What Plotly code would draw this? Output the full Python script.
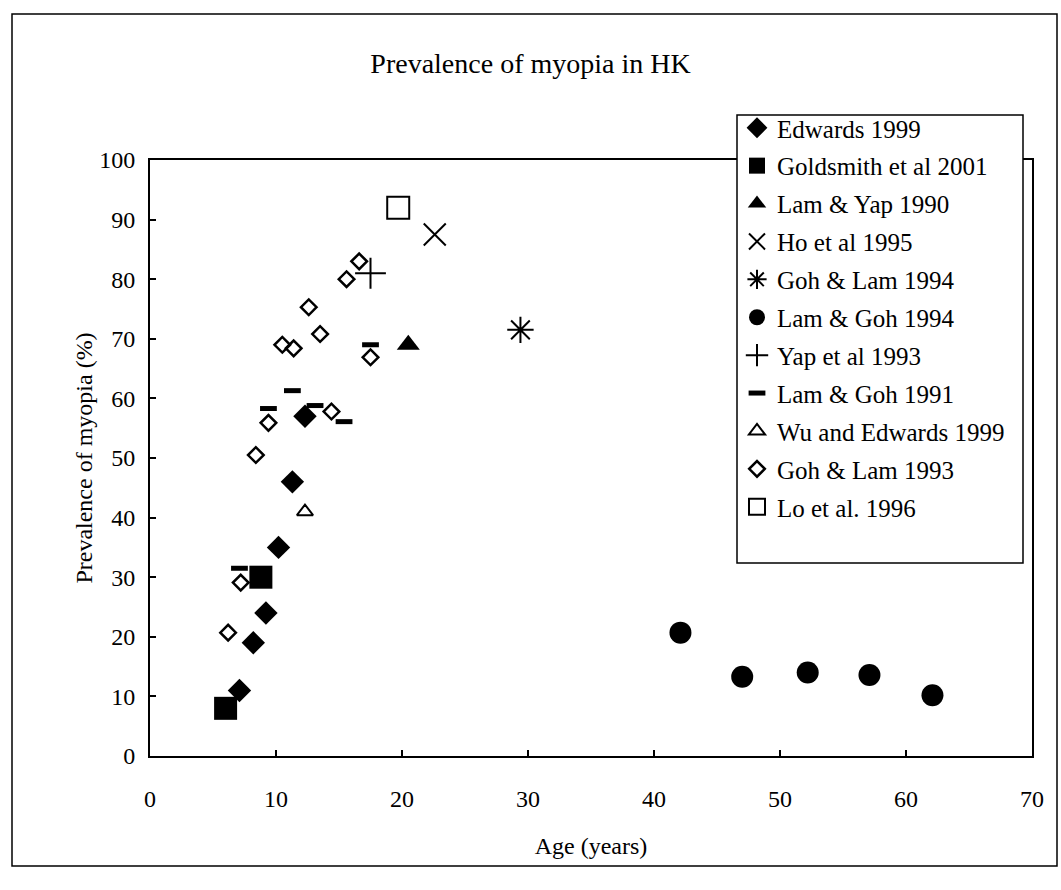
import plotly.graph_objects as go

# ---- data ----
edwards_x = [7.1, 8.2, 9.2, 10.2, 11.3, 12.3]
edwards_y = [11, 19, 24, 35, 46, 57]

goldsmith_x = [6.0, 8.8]
goldsmith_y = [8, 30]

lamyap_x = [20.5]
lamyap_y = [69]

ho_x = [22.6]
ho_y = [87.5]

gohlam94_x = [29.4]
gohlam94_y = [71.5]

lamgoh94_x = [42.1, 47.0, 52.2, 57.1, 62.1]
lamgoh94_y = [20.7, 13.3, 14.0, 13.6, 10.2]

yap_x = [17.5]
yap_y = [81]

lamgoh91_x = [7.1, 9.4, 11.3, 13.1, 15.4, 17.5]
lamgoh91_y = [31.5, 58.3, 61.3, 58.8, 56.1, 69]

wu_x = [12.3]
wu_y = [41]

gohlam93_x = [6.2, 7.2, 8.4, 9.4, 10.5, 11.4, 12.6, 13.5, 14.4, 15.6, 16.6, 17.5]
gohlam93_y = [20.7, 29.1, 50.5, 55.9, 69.0, 68.4, 75.3, 70.8, 57.8, 80.0, 83.0, 66.9]

lo_x = [19.7]
lo_y = [92]

x_ticks = [0, 10, 20, 30, 40, 50, 60, 70]
y_ticks = [0, 10, 20, 30, 40, 50, 60, 70, 80, 90, 100]

FONT = "Liberation Serif, Times New Roman, serif"
BLACK = "black"

series = [
    ("Edwards 1999", edwards_x, edwards_y, dict(symbol="diamond", size=18, color=BLACK)),
    ("Goldsmith et al 2001", goldsmith_x, goldsmith_y, dict(symbol="square", size=23, color=BLACK)),
    ("Lam & Yap 1990", lamyap_x, lamyap_y, dict(symbol="triangle-up", size=20, color=BLACK)),
    ("Ho et al 1995", ho_x, ho_y, dict(symbol="x-thin-open", size=22, color=BLACK,
                                         line=dict(width=2, color=BLACK))),
    ("Goh & Lam 1994", gohlam94_x, gohlam94_y, dict(symbol="asterisk-open", size=22, color=BLACK,
                                                   line=dict(width=2, color=BLACK))),
    ("Lam & Goh 1994", lamgoh94_x, lamgoh94_y, dict(symbol="circle", size=22, color=BLACK)),
    ("Yap et al 1993", yap_x, yap_y, dict(symbol="cross-thin-open", size=22, color=BLACK,
                                          line=dict(width=2, color=BLACK))),
    ("Lam & Goh 1991", lamgoh91_x, lamgoh91_y, dict(symbol="line-ew-open", size=12, color=BLACK,
                                                   line=dict(width=5, color=BLACK))),
    ("Wu and Edwards 1999", wu_x, wu_y, dict(symbol="triangle-up-open", size=14, color=BLACK,
                                            line=dict(width=2, color=BLACK))),
    ("Goh & Lam 1993", gohlam93_x, gohlam93_y, dict(symbol="diamond-open", size=12, color=BLACK,
                                                   line=dict(width=2.5, color=BLACK))),
    ("Lo et al. 1996", lo_x, lo_y, dict(symbol="square-open", size=22, color=BLACK,
                                        line=dict(width=2, color=BLACK))),
]

fig = go.Figure()
for i, (name, xs, ys, mk) in enumerate(series):
    fig.add_trace(go.Scatter(x=xs, y=ys, mode="markers", name=name, marker=mk,
                             legendgroup="g%d" % i))

# plot area: x 150..1032 px, y 160..756 px
L, R, T, B = 150, 1061 - 1032, 160, 890 - 756
PW, PH = 1061 - L - R, 890 - T - B


def px_x(p):
    return (p - L) / PW


def px_y(p):
    return (890 - B - p) / PH


fig.update_layout(
    width=1061, height=890,
    margin=dict(l=L, r=R, t=T, b=B, autoexpand=False),
    paper_bgcolor="white", plot_bgcolor="white",
    font=dict(family=FONT, size=24, color=BLACK),
    title=dict(text="Prevalence of myopia in HK", x=0.5, xref="container", xanchor="center",
               y=1 - 63 / 890, yref="container", yanchor="middle",
               font=dict(family=FONT, size=28, color=BLACK)),
    showlegend=True,
    legend=dict(x=px_x(737), y=px_y(105), xanchor="left", yanchor="top",
                bgcolor="rgba(0,0,0,0)", borderwidth=0,
                font=dict(family=FONT, size=25, color=BLACK),
                tracegroupgap=2.4, itemwidth=30),
    xaxis=dict(range=[0, 70], tickvals=x_ticks, ticks="inside", ticklen=6, tickwidth=1.5,
               tickcolor=BLACK, showline=True, linecolor=BLACK, linewidth=2, mirror=True,
               showgrid=False, zeroline=False, ticklabelstandoff=20,
               tickfont=dict(family=FONT, size=24, color=BLACK),
               title=dict(text="Age (years)", standoff=26,
                          font=dict(family=FONT, size=24, color=BLACK))),
    yaxis=dict(range=[0, 100], tickvals=y_ticks, ticks="inside", ticklen=6, tickwidth=1.5,
               tickcolor=BLACK, showline=True, linecolor=BLACK, linewidth=2, mirror=True,
               showgrid=False, zeroline=False, ticklabelstandoff=8,
               tickfont=dict(family=FONT, size=24, color=BLACK),
               title=dict(text="Prevalence of myopia (%)", standoff=0,
                          font=dict(family=FONT, size=24, color=BLACK))),
)

# outer chart frame
fig.add_shape(type="rect", xref="paper", yref="paper",
              x0=px_x(12), x1=px_x(1057), y0=px_y(866), y1=px_y(14),
              line=dict(color=BLACK, width=1.5), layer="below")

# legend box (drawn over the plot frame)
fig.add_shape(type="rect", xref="paper", yref="paper",
              x0=px_x(737), x1=px_x(1023), y0=px_y(563), y1=px_y(115),
              line=dict(color=BLACK, width=1.5), fillcolor="white", layer="above")

fig.write_html("out.html")
